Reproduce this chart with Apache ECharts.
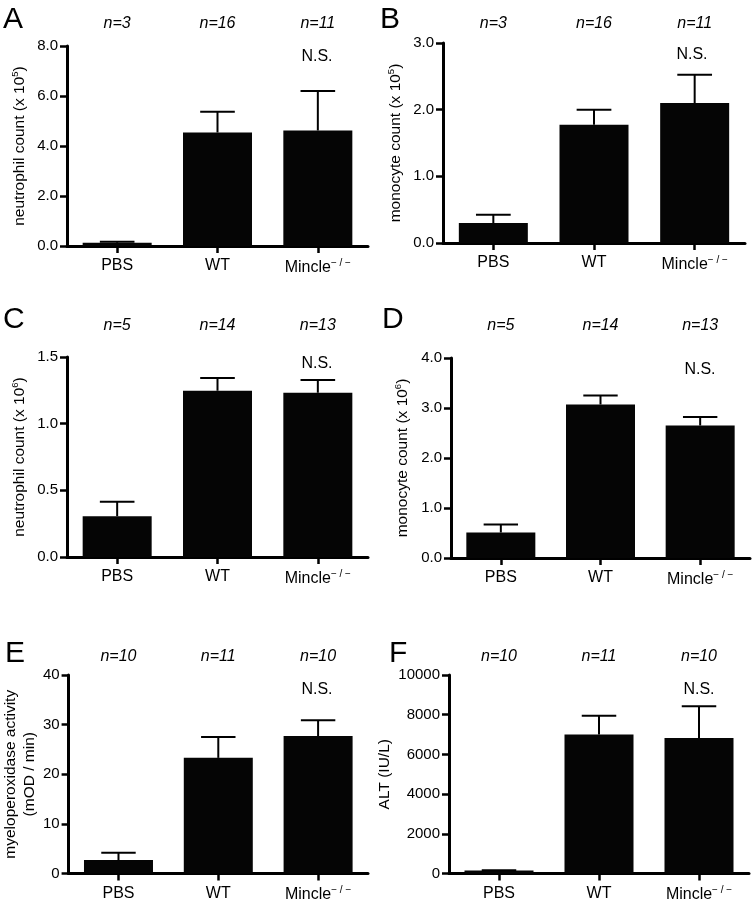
<!DOCTYPE html>
<html><head><meta charset="utf-8">
<script src="https://cdn.jsdelivr.net/npm/echarts@6/dist/echarts.min.js"></script>
<style>html,body{margin:0;padding:0;background:#fff}#c{width:754px;height:903px}</style>
</head><body><div id="c"></div>
<script>
const categories = ['PBS', 'WT', 'Mincle'];

const meanA = [0.13, 4.54, 4.62];
const semA  = [0.04, 0.83, 1.58];
const meanB = [0.30, 1.775, 2.10];
const semB  = [0.125, 0.225, 0.425];
const meanC = [0.306, 1.247, 1.232];
const semC  = [0.108, 0.095, 0.095];
const meanD = [0.51, 3.07, 2.65];
const semD  = [0.16, 0.18, 0.17];
const meanE = [2.7, 23.3, 27.7];
const semE  = [1.5, 4.2, 3.2];
const meanF = [150, 7000, 6830];
const semF  = [20, 950, 1590];

const nA = ['n=3', 'n=16', 'n=11'];
const nB = ['n=3', 'n=16', 'n=11'];
const nC = ['n=5', 'n=14', 'n=13'];
const nD = ['n=5', 'n=14', 'n=13'];
const nE = ['n=10', 'n=11', 'n=10'];
const nF = ['n=10', 'n=11', 'n=10'];

const panels = [
  {letter:'A', mean:meanA, sem:semA, n:nA, max:8, interval:2, dec:1, name:'neutrophil count (x 10{sup|5})',
   grid:{left:67, top:46, width:301, height:200}, nMargin:14, nameGap:38, L:[3,28], NS:[317,57]},
  {letter:'B', mean:meanB, sem:semB, n:nB, max:3, interval:1, dec:1, name:'monocyte count (x 10{sup|5})',
   grid:{left:443, top:43, width:302, height:200}, nMargin:11, nameGap:38, L:[380,28], NS:[692,55]},
  {letter:'C', mean:meanC, sem:semC, n:nC, max:1.5, interval:0.5, dec:1, name:'neutrophil count (x 10{sup|6})',
   grid:{left:67, top:357, width:301, height:200}, nMargin:23, nameGap:38, L:[3,328], NS:[317,364]},
  {letter:'D', mean:meanD, sem:semD, n:nD, max:4, interval:1, dec:1, name:'monocyte count (x 10{sup|6})',
   grid:{left:451, top:358, width:299, height:200}, nMargin:24, nameGap:39, L:[382,328], NS:[700,370]},
  {letter:'E', mean:meanE, sem:semE, n:nE, max:40, interval:10, dec:0, name:'myeloperoxidase activity\n(mOD / min)',
   grid:{left:68, top:675, width:300, height:200}, nMargin:10, nameGap:27, L:[5,662], NS:[317,690]},
  {letter:'F', mean:meanF, sem:semF, n:nF, max:10000, interval:2000, dec:0, name:'ALT (IU/L)',
   grid:{left:449, top:675, width:300, height:200}, nMargin:10, nameGap:47, L:[389,662], NS:[699,690]}
];

const FONT = '"Liberation Sans", Arial, Helvetica, sans-serif';
const axisLineStyle = {color:'#000', width:3};

const grid = [], xAxis = [], yAxis = [], series = [], graphic = [];
panels.forEach((p, i) => {
  grid.push(Object.assign({containLabel:false}, p.grid));
  xAxis.push({
    type:'category', gridIndex:i, data:categories, position:'bottom',
    axisLine:{show:true, onZero:false, lineStyle:axisLineStyle},
    axisTick:{show:true, interval:0, alignWithLabel:true, inside:false, length:7, lineStyle:{color:'#000', width:2.5}},
    axisLabel:{interval:0, hideOverlap:false, color:'#000', fontFamily:FONT, fontSize:16, margin:12,
      formatter:(v) => v === 'Mincle' ? 'Mincle{sup|− / −}' : v,
      rich:{sup:{fontSize:10, fontFamily:FONT, color:'#000', padding:[0,0,9,0]}}}
  });
  xAxis.push({
    type:'category', gridIndex:i, data:p.n, position:'top',
    axisLine:{show:false}, axisTick:{show:false},
    axisLabel:{interval:0, color:'#000', fontFamily:FONT, fontSize:16, fontStyle:'italic', margin:p.nMargin}
  });
  yAxis.push({
    type:'value', gridIndex:i, min:0, max:p.max, interval:p.interval,
    name:p.name, nameLocation:'middle', nameGap:p.nameGap, nameRotate:90,
    nameTextStyle:{color:'#000', fontFamily:FONT, fontSize:15.5, lineHeight:19,
      rich:{sup:{fontSize:9.5, fontFamily:FONT, color:'#000', padding:[0,0,8,0]}}},
    axisLine:{show:true, lineStyle:axisLineStyle},
    axisTick:{show:true, length:7, lineStyle:{color:'#000', width:2.5}},
    splitLine:{show:false},
    axisLabel:{color:'#000', fontFamily:FONT, fontSize:15, margin:9,
      formatter:(v) => v.toFixed(p.dec)}
  });
  series.push({
    type:'bar', xAxisIndex:i*2, yAxisIndex:i, data:p.mean, barWidth:69,
    itemStyle:{color:'#050505'}, silent:true
  });
  series.push({
    type:'custom', xAxisIndex:i*2, yAxisIndex:i,
    data:p.mean.map((m, k) => [k, m, m + p.sem[k]]),
    renderItem:(params, api) => {
      const b = api.coord([api.value(0), api.value(1)]);
      const t = api.coord([api.value(0), api.value(2)]);
      const half = api.size([1, 0])[0] * 0.69 / 4;
      return {type:'group', children:[
        {type:'line', shape:{x1:b[0], y1:b[1], x2:t[0], y2:t[1]}, style:{stroke:'#000', lineWidth:2}},
        {type:'line', shape:{x1:t[0]-half, y1:t[1], x2:t[0]+half, y2:t[1]}, style:{stroke:'#000', lineWidth:2}}
      ]};
    },
    z:3, silent:true
  });
  graphic.push({type:'text', left:p.L[0], top:p.L[1]-23, style:{text:p.letter, font:'30px ' + FONT, fill:'#000'}});
  graphic.push({type:'text', x:p.NS[0], y:p.NS[1], style:{text:'N.S.', font:'16px ' + FONT, fill:'#000', align:'center', verticalAlign:'middle'}});
});

const chart = echarts.init(document.getElementById('c'), null, {renderer:'canvas'});
chart.setOption({backgroundColor:'#fff', animation:false, grid, xAxis, yAxis, series, graphic});
</script></body></html>
